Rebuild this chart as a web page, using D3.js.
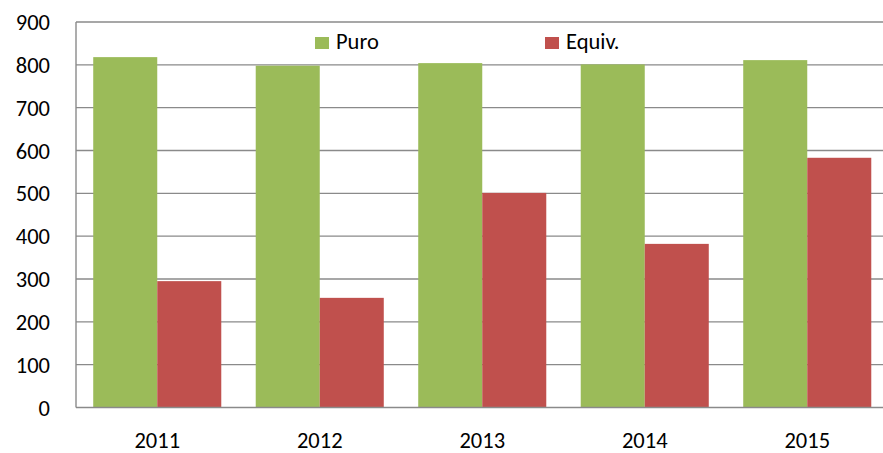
<!DOCTYPE html>
<html><head><meta charset="utf-8">
<script src="https://cdn.jsdelivr.net/npm/d3@7/dist/d3.min.js"></script>
<style>
body{margin:0;background:#fff;}
text{font-family:Carlito, Calibri, Lato, sans-serif;fill:#000;}
</style></head>
<body><svg id="c" width="883" height="453"></svg>
<script>
const years = ["2011","2012","2013","2014","2015"];
const puro = [818, 798, 804, 801, 811];
const equiv = [295, 256, 501, 382, 583];
const seriesNames = ["Puro","Equiv."];
const yTicks = [0,100,200,300,400,500,600,700,800,900];
const colors = ["#9bbb59","#c0504d"];

(function(){
const svg = d3.select("#c");
const mLeft = 76, mRight = 888.5, mTop = 22, mBottom = 407.5, gridRight = 883;
const x = d3.scaleBand().domain(years).range([mLeft, mRight]).paddingInner(0.212).paddingOuter(0.106);
const x1 = d3.scaleBand().domain(seriesNames).range([0, x.bandwidth()]);
const y = d3.scaleLinear().domain([0, 900]).range([mBottom, mTop]);

// gridlines
svg.append("g").selectAll("line").data(yTicks.filter(d=>d>0)).join("line")
  .attr("x1", mLeft).attr("x2", gridRight)
  .attr("y1", d=>y(d)).attr("y2", d=>y(d))
  .attr("stroke", "#8a8a8a").attr("stroke-width", 1.4);

// bars
const data = years.map((yr,i)=>({yr, vals:[puro[i], equiv[i]]}));
const g = svg.append("g");
data.forEach(d=>{
  d.vals.forEach((v,j)=>{
    g.append("rect")
      .attr("x", x(d.yr) + x1(seriesNames[j]))
      .attr("y", y(v))
      .attr("width", x1.bandwidth())
      .attr("height", y(0) - y(v))
      .attr("fill", colors[j]);
  });
});

// axes lines
svg.append("line").attr("x1", mLeft).attr("x2", mLeft).attr("y1", mTop).attr("y2", mBottom)
  .attr("stroke", "#8a8a8a").attr("stroke-width", 1.4);
svg.append("line").attr("x1", mLeft).attr("x2", gridRight).attr("y1", mBottom).attr("y2", mBottom)
  .attr("stroke", "#8a8a8a").attr("stroke-width", 1.4);

// y tick labels
svg.append("g").selectAll("text").data(yTicks).join("text")
  .attr("x", 50).attr("y", d=>y(d)).attr("dy", "0.36em")
  .attr("text-anchor", "end").attr("font-size", 22.5).text(d=>d);

// x labels
svg.append("g").selectAll("text").data(years).join("text")
  .attr("x", d=>x(d)+x.bandwidth()/2).attr("y", 448)
  .attr("text-anchor", "middle").attr("font-size", 22.5).text(d=>d);

// legend
const legX = [315, 545];
seriesNames.forEach((s,i)=>{
  svg.append("rect").attr("x", legX[i]).attr("y", 37).attr("width", 14).attr("height", 12).attr("fill", colors[i]);
  svg.append("text").attr("x", legX[i]+21).attr("y", 48.5).attr("font-size", 22.5).text(s);
});
})();
</script>
</body></html>
